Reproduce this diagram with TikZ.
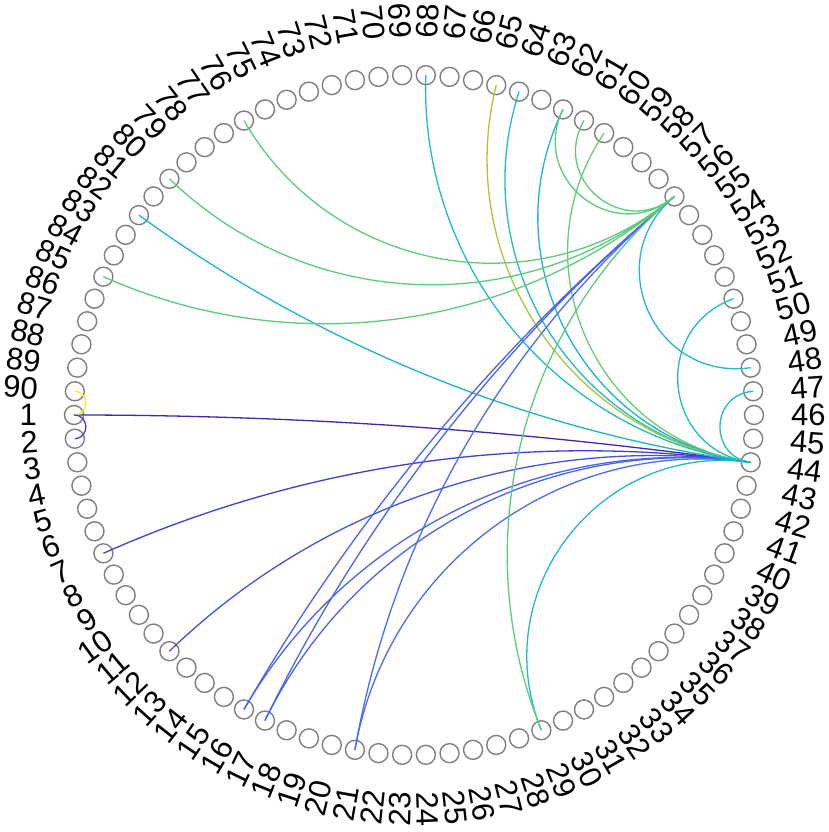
\documentclass[tikz,border=0pt]{standalone}
\usepackage{fontspec}
\setmainfont{Liberation Sans}
\definecolor{cIndigo}{HTML}{3A2AB2}
\definecolor{cViolet}{HTML}{4A3AD8}
\definecolor{cBlueA}{HTML}{423ED6}
\definecolor{cBlueB}{HTML}{4450E6}
\definecolor{cBlueC}{HTML}{4864F0}
\definecolor{cBlueD}{HTML}{4A6CF2}
\definecolor{cTeal}{HTML}{22BAC4}
\definecolor{cTealB}{HTML}{1FB2CC}
\definecolor{cGreen}{HTML}{5ACC7C}
\definecolor{cGreenB}{HTML}{6ACC70}
\definecolor{cLime}{HTML}{A8C63C}
\definecolor{cYellow}{HTML}{F0F028}
\definecolor{cNode}{HTML}{7F7F7F}
\tikzset{
  nodec/.style={circle, draw=cNode, line width=1.4pt, minimum size=19pt, inner sep=0pt},
  lab/.style={inner sep=0pt, font=\fontsize{31}{31}\selectfont},
  edge/.style={line width=1.3pt}
}
\newcommand{\chordd}[3]{%
  \pgfmathsetmacro{\cA}{180+4*(#1-1)}%
  \pgfmathsetmacro{\cB}{180+4*(#2-1)}%
  \pgfmathsetmacro{\cT}{mod(abs(\cA-\cB),360)}%
  \pgfmathsetmacro{\cT}{\cT>180 ? 360-\cT : \cT}%
  \pgfmathsetmacro{\cL}{4/3*tan((180-\cT)/4)*340*tan(\cT/2)}%
  \draw[edge, draw=#3] (n#1.center) to[out=\cA+180, in=\cB+180, distance=\cL pt] (n#2.center);%
}
\begin{document}
\begin{tikzpicture}[x=1pt, y=1pt]
\useasboundingbox (-414,-417) rectangle (415,415);
\foreach \k in {1,...,90}{
  \pgfmathsetmacro{\ang}{mod(180+4*(\k-1),360)}
  \node[nodec] (n\k) at (\ang:340) {};
  \pgfmathtruncatemacro{\isleft}{and(\ang>90,\ang<270)}
  \ifnum\isleft=1
    \node[lab, anchor=east, rotate=\ang-180] (l\k) at (\ang:377) {\k};
  \else
    \node[lab, anchor=west, rotate=\ang] (l\k) at (\ang:377) {\k};
  \fi
}
% edges to node 44
\chordd{1}{44}{cIndigo}
\chordd{7}{44}{cBlueA}
\chordd{12}{44}{cBlueB}
\chordd{16}{44}{cBlueC}
\chordd{17}{44}{cBlueC}
\chordd{21}{44}{cBlueD}
\chordd{29}{44}{cTeal}
\chordd{47}{44}{cTeal}
\chordd{51}{44}{cTeal}
\chordd{60}{44}{cGreenB}
\chordd{62}{44}{cTealB}
\chordd{64}{44}{cTeal}
\chordd{65}{44}{cLime}
\chordd{68}{44}{cTeal}
\chordd{82}{44}{cTealB}
% edges to node 56
\chordd{16}{56}{cBlueC}
\chordd{17}{56}{cBlueC}
\chordd{21}{56}{cBlueD}
\chordd{29}{56}{cGreen}
\chordd{48}{56}{cTeal}
\chordd{61}{56}{cGreen}
\chordd{62}{56}{cGreen}
\chordd{76}{56}{cGreen}
\chordd{80}{56}{cGreen}
\chordd{85}{56}{cGreen}
% others
\chordd{90}{1}{cYellow}
\chordd{1}{2}{cViolet}
\end{tikzpicture}
\end{document}
